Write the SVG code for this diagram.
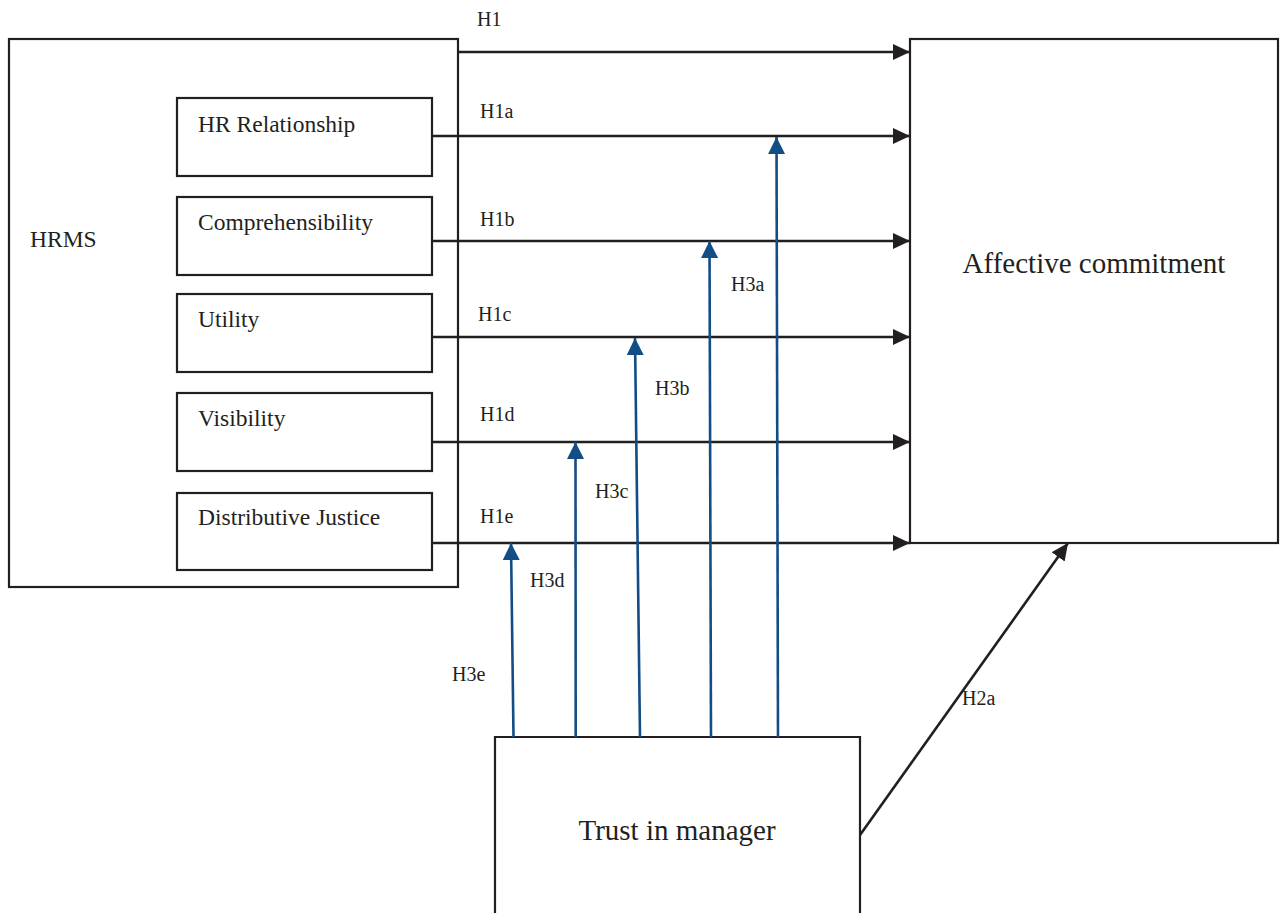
<svg xmlns="http://www.w3.org/2000/svg" width="1280" height="913" viewBox="0 0 1280 913">
<style>
  .box { fill: #ffffff; stroke: #231f20; stroke-width: 2.2; }
  .blk { fill: none; stroke: #231f20; stroke-width: 2.6; }
  .blu { fill: none; stroke: #134d86; stroke-width: 2.6; }
  .t { font-family: "Liberation Serif", "Times New Roman", serif; fill: #231f20; }
  .lbl { font-size: 20px; }
  .sub { font-size: 23.5px; }
  .big { font-size: 29px; }
</style>
<defs>
  <marker id="ah" viewBox="0 0 16 16" refX="16" refY="8" markerWidth="17" markerHeight="16" markerUnits="userSpaceOnUse" orient="auto" preserveAspectRatio="none">
    <path d="M0,0 L16,8 L0,16 z" fill="#231f20"/>
  </marker>
  <marker id="ab" viewBox="0 0 16 16" refX="16" refY="8" markerWidth="17" markerHeight="17" markerUnits="userSpaceOnUse" orient="auto" preserveAspectRatio="none">
    <path d="M0,0 L16,8 L0,16 z" fill="#134d86"/>
  </marker>
</defs>

<g id="hrms">
  <rect class="box" x="9" y="39" width="449" height="548"/>
  <text class="t sub" x="30" y="247">HRMS</text>
</g>
<g id="hr-relationship">
  <rect class="box" x="177" y="98" width="255" height="78"/>
  <text class="t sub" x="198" y="132">HR Relationship</text>
</g>
<g id="comprehensibility">
  <rect class="box" x="177" y="197" width="255" height="78"/>
  <text class="t sub" x="198" y="230">Comprehensibility</text>
</g>
<g id="utility">
  <rect class="box" x="177" y="294" width="255" height="78"/>
  <text class="t sub" x="198" y="327">Utility</text>
</g>
<g id="visibility">
  <rect class="box" x="177" y="393" width="255" height="78"/>
  <text class="t sub" x="198" y="426">Visibility</text>
</g>
<g id="distributive-justice">
  <rect class="box" x="177" y="493" width="255" height="77"/>
  <text class="t sub" x="198" y="525">Distributive Justice</text>
</g>
<g id="affective-commitment">
  <rect class="box" x="910" y="39" width="368" height="504"/>
  <text class="t big" x="1094" y="273" text-anchor="middle">Affective commitment</text>
</g>
<g id="trust-in-manager">
  <path class="box" d="M495,915 L495,737 L860,737 L860,915"/>
  <text class="t big" x="677" y="840" text-anchor="middle">Trust in manager</text>
</g>

<g id="connectors">
  <line class="blk" x1="458" y1="52" x2="910" y2="52" marker-end="url(#ah)"/>
  <line class="blk" x1="432" y1="136" x2="910" y2="136" marker-end="url(#ah)"/>
  <line class="blk" x1="432" y1="241" x2="910" y2="241" marker-end="url(#ah)"/>
  <line class="blk" x1="432" y1="337" x2="910" y2="337" marker-end="url(#ah)"/>
  <line class="blk" x1="432" y1="442" x2="910" y2="442" marker-end="url(#ah)"/>
  <line class="blk" x1="432" y1="543" x2="910" y2="543" marker-end="url(#ah)"/>
  <line class="blk" x1="860" y1="835" x2="1068" y2="543" marker-end="url(#ah)"/>

  <line class="blu" x1="778" y1="737" x2="776.5" y2="137" marker-end="url(#ab)"/>
  <line class="blu" x1="711" y1="737" x2="709.5" y2="241" marker-end="url(#ab)"/>
  <line class="blu" x1="640" y1="737" x2="635" y2="338" marker-end="url(#ab)"/>
  <line class="blu" x1="575.7" y1="737" x2="575.5" y2="442" marker-end="url(#ab)"/>
  <line class="blu" x1="513.5" y1="737" x2="511" y2="543" marker-end="url(#ab)"/>
</g>

<g id="labels">
  <text class="t lbl" x="477" y="26">H1</text>
  <text class="t lbl" x="480" y="118">H1a</text>
  <text class="t lbl" x="480" y="226">H1b</text>
  <text class="t lbl" x="478" y="321">H1c</text>
  <text class="t lbl" x="480" y="421">H1d</text>
  <text class="t lbl" x="480" y="523">H1e</text>
  <text class="t lbl" x="731" y="291">H3a</text>
  <text class="t lbl" x="655" y="395">H3b</text>
  <text class="t lbl" x="595" y="498">H3c</text>
  <text class="t lbl" x="530" y="587">H3d</text>
  <text class="t lbl" x="452" y="681">H3e</text>
  <text class="t lbl" x="962" y="705">H2a</text>
</g>
</svg>
